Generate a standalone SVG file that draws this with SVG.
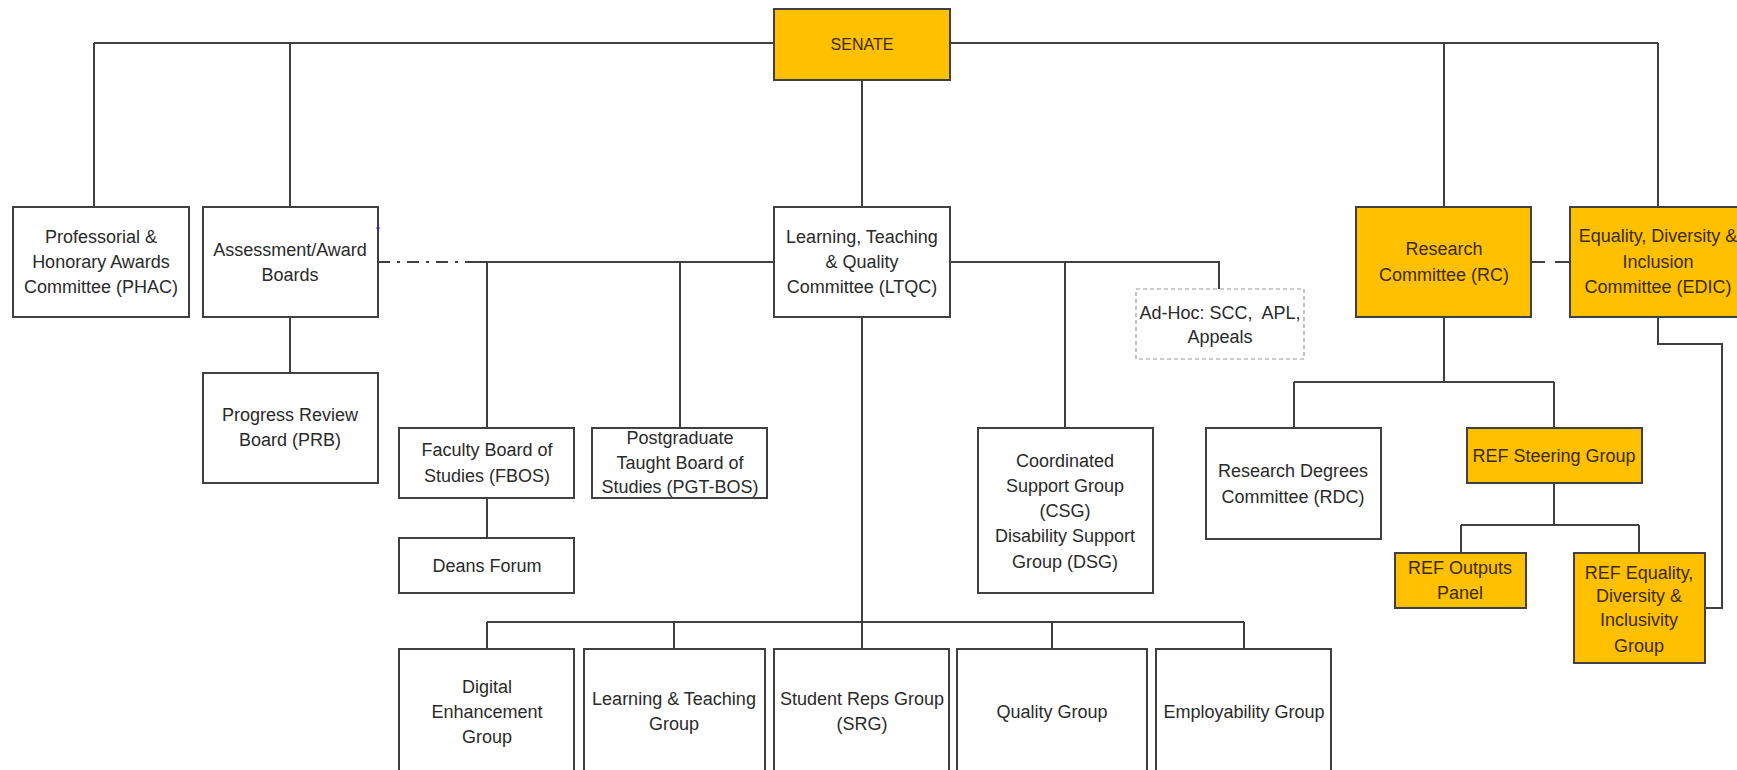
<svg xmlns="http://www.w3.org/2000/svg" width="1737" height="770" viewBox="0 0 1737 770">
<style>
  .box{fill:#ffffff;stroke:#404040;stroke-width:2}
  .gold{fill:#FFC000;stroke:#404040;stroke-width:2}
  .adhoc{fill:#ffffff;stroke:#9a9a9a;stroke-width:1.2;stroke-dasharray:4 3}
  .ln{fill:none;stroke:#404040;stroke-width:2}
  .dashdot{fill:none;stroke:#404040;stroke-width:2;stroke-dasharray:12 7 3 7}
  .dash{fill:none;stroke:#404040;stroke-width:2;stroke-dasharray:14 10}
  text{font-family:"Liberation Sans",Arial,sans-serif;font-size:18px;fill:#2a2a2a;text-anchor:middle}
  .gt{fill:#3a2c00}
</style>
<rect width="1737" height="770" fill="#ffffff"/>

<g id="connectors">
  <path class="ln" d="M94 43H774 M950 43H1658 M94 43V207 M290 43V207 M1444 43V207 M1658 43V207"/>
  <path class="ln" d="M862 80V207"/>
  <path class="ln" d="M290 317V373"/>
  <path class="dashdot" d="M378 262H473"/>
  <path class="ln" d="M473 262H774 M487 262V428 M680 262V428 M487 498V538"/>
  <path class="ln" d="M950 262H1219V289 M1065 262V428"/>
  <path class="ln" d="M862 317V649 M487 622H1244 M487 622V649 M674 622V649 M1052 622V649 M1244 622V649"/>
  <path class="dash" d="M1531 262H1570"/>
  <path class="ln" d="M1444 317V382 M1294 382H1554 M1294 382V428 M1554 382V428"/>
  <path class="ln" d="M1554 483V525 M1461 525H1639 M1461 525V553 M1639 525V553"/>
  <path class="ln" d="M1658 317V344H1722V608H1705"/>
</g>

<g id="senate">
  <rect class="gold" x="774" y="9" width="176" height="71"/>
  <text class="gt" x="862" y="50" style="font-size:16px">SENATE</text>
</g>

<g id="phac">
  <rect class="box" x="13" y="207" width="176" height="110"/>
  <text x="101" y="243">Professorial &amp;</text>
  <text x="101" y="268">Honorary Awards</text>
  <text x="101" y="293">Committee (PHAC)</text>
</g>

<g id="assessment">
  <rect class="box" x="203" y="207" width="175" height="110"/>
  <text x="290" y="256">Assessment/Award</text>
  <text x="290" y="281">Boards</text>
  <circle cx="378" cy="228" r="1.6" fill="#2a2ad0"/>
</g>

<g id="prb">
  <rect class="box" x="203" y="373" width="175" height="110"/>
  <text x="290" y="421">Progress Review</text>
  <text x="290" y="446">Board (PRB)</text>
</g>

<g id="ltqc">
  <rect class="box" x="774" y="207" width="176" height="110"/>
  <text x="862" y="243">Learning, Teaching</text>
  <text x="862" y="268">&amp; Quality</text>
  <text x="862" y="293">Committee (LTQC)</text>
</g>

<g id="adhoc">
  <rect class="adhoc" x="1136" y="289" width="168" height="70"/>
  <text x="1220" y="319">Ad-Hoc: SCC,&#160; APL,</text>
  <text x="1220" y="343">Appeals</text>
</g>

<g id="rc">
  <rect class="gold" x="1356" y="207" width="175" height="110"/>
  <text class="gt" x="1444" y="255">Research</text>
  <text class="gt" x="1444" y="281">Committee (RC)</text>
</g>

<g id="edic">
  <rect class="gold" x="1570" y="207" width="180" height="110"/>
  <text class="gt" x="1658" y="242">Equality, Diversity &amp;</text>
  <text class="gt" x="1658" y="268">Inclusion</text>
  <text class="gt" x="1658" y="293">Committee (EDIC)</text>
</g>

<g id="fbos">
  <rect class="box" x="399" y="428" width="175" height="70"/>
  <text x="487" y="456">Faculty Board of</text>
  <text x="487" y="482">Studies (FBOS)</text>
</g>

<g id="deans">
  <rect class="box" x="399" y="538" width="175" height="55"/>
  <text x="487" y="572">Deans Forum</text>
</g>

<g id="pgtbos">
  <rect class="box" x="592" y="428" width="175" height="70"/>
  <text x="680" y="444">Postgraduate</text>
  <text x="680" y="469">Taught Board of</text>
  <text x="680" y="493">Studies (PGT-BOS)</text>
</g>

<g id="csg">
  <rect class="box" x="978" y="428" width="175" height="165"/>
  <text x="1065" y="467">Coordinated</text>
  <text x="1065" y="492">Support Group</text>
  <text x="1065" y="517">(CSG)</text>
  <text x="1065" y="542">Disability Support</text>
  <text x="1065" y="568">Group (DSG)</text>
</g>

<g id="rdc">
  <rect class="box" x="1206" y="428" width="175" height="111"/>
  <text x="1293" y="477">Research Degrees</text>
  <text x="1293" y="503">Committee (RDC)</text>
</g>

<g id="refsteering">
  <rect class="gold" x="1467" y="428" width="175" height="55"/>
  <text class="gt" x="1554" y="462">REF Steering Group</text>
</g>

<g id="refoutputs">
  <rect class="gold" x="1395" y="553" width="131" height="55"/>
  <text class="gt" x="1460" y="574">REF Outputs</text>
  <text class="gt" x="1460" y="599">Panel</text>
</g>

<g id="refedi">
  <rect class="gold" x="1574" y="553" width="131" height="110"/>
  <text class="gt" x="1639" y="579">REF Equality,</text>
  <text class="gt" x="1639" y="602">Diversity &amp;</text>
  <text class="gt" x="1639" y="626">Inclusivity</text>
  <text class="gt" x="1639" y="652">Group</text>
</g>

<g id="digital">
  <rect class="box" x="399" y="649" width="175" height="140"/>
  <text x="487" y="693">Digital</text>
  <text x="487" y="718">Enhancement</text>
  <text x="487" y="743">Group</text>
</g>

<g id="ltgroup">
  <rect class="box" x="584" y="649" width="181" height="140"/>
  <text x="674" y="705">Learning &amp; Teaching</text>
  <text x="674" y="730">Group</text>
</g>

<g id="srg">
  <rect class="box" x="774" y="649" width="175" height="140"/>
  <text x="862" y="705">Student Reps Group</text>
  <text x="862" y="730">(SRG)</text>
</g>

<g id="quality">
  <rect class="box" x="957" y="649" width="190" height="140"/>
  <text x="1052" y="718">Quality Group</text>
</g>

<g id="employability">
  <rect class="box" x="1156" y="649" width="175" height="140"/>
  <text x="1244" y="718">Employability Group</text>
</g>
</svg>
